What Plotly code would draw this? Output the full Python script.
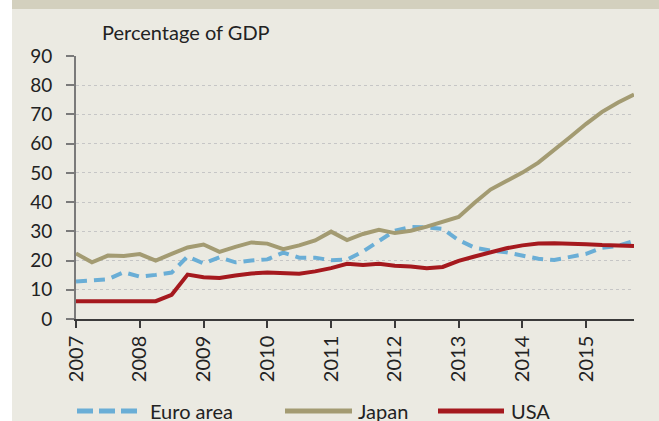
import plotly.graph_objects as go

# ---- data (quarterly, 2007Q1 .. 2015Q4) ----
quarters = [2007 + 0.25 * i for i in range(36)]
euro_area = [12.8, 13.2, 13.6, 16.0, 14.5, 15.1, 15.9, 21.4,
             19.0, 21.1, 19.4, 20.0, 20.4, 22.7, 21.0, 21.0,
             20.1, 20.3, 23.1, 26.7, 30.2, 31.5, 31.4, 30.8,
             27.0, 24.4, 23.4, 22.8, 21.6, 20.6, 20.2, 21.1,
             22.3, 24.4, 25.0, 26.7]
japan = [22.4, 19.4, 21.7, 21.6, 22.2, 20.0, 22.3, 24.5,
         25.5, 23.0, 24.7, 26.2, 25.8, 23.9, 25.2, 26.9,
         29.9, 27.0, 29.1, 30.5, 29.4, 30.2, 31.6, 33.4,
         34.9, 39.8, 44.3, 47.2, 50.1, 53.5, 57.7, 62.3,
         66.8, 70.9, 74.1, 76.8]
usa = [6.1, 6.1, 6.2, 6.1, 6.1, 6.1, 8.3, 15.2,
       14.3, 14.0, 14.9, 15.6, 15.9, 15.8, 15.5, 16.3,
       17.4, 18.9, 18.5, 18.9, 18.2, 18.0, 17.4, 17.8,
       19.9, 21.4, 22.8, 24.2, 25.2, 25.8, 25.9, 25.9,
       25.6, 25.3, 25.1, 25.0]
year_ticks = [2007, 2008, 2009, 2010, 2011, 2012, 2013, 2014, 2015]
y_ticks = [0, 10, 20, 30, 40, 50, 60, 70, 80, 90]
series_names = ["Euro area", "Japan", "USA"]

# ---- style ----
W, H = 659, 421
ML, MR, MT, MB = 76, 25, 56, 102
PW, PH = W - ML - MR, H - MT - MB
BG = "#ebeae2"
BAND = "#d3d0be"
C_EURO = "#6aaed6"
C_JAPAN = "#a39b72"
C_USA = "#a5191e"
FONT = "Lato"


def px_x(px):
    return (px - ML) / PW


def px_y(py):
    return (H - MB - py) / PH


fig = go.Figure()
fig.add_trace(go.Scatter(x=quarters, y=euro_area, mode="lines", name=series_names[0],
                         line=dict(color=C_EURO, width=4, dash="11px,7px")))
fig.add_trace(go.Scatter(x=quarters, y=japan, mode="lines", name=series_names[1],
                         line=dict(color=C_JAPAN, width=4)))
fig.add_trace(go.Scatter(x=quarters, y=usa, mode="lines", name=series_names[2],
                         line=dict(color=C_USA, width=4)))

shapes = [
    # white strip at left
    dict(type="rect", xref="paper", yref="paper", x0=px_x(0), x1=px_x(12),
         y0=px_y(H), y1=px_y(0), fillcolor="white", line=dict(width=0), layer="below"),
    # top band
    dict(type="rect", xref="paper", yref="paper", x0=px_x(12), x1=px_x(W),
         y0=px_y(9), y1=px_y(0), fillcolor=BAND, line=dict(width=0), layer="below"),
]

annotations = [
    dict(text="Percentage of GDP", xref="paper", yref="paper", x=px_x(100), y=px_y(32),
         xanchor="left", yanchor="middle", showarrow=False,
         font=dict(family=FONT, size=20, color="#222222")),
]

# manual legend (long line samples as in the original)
leg_y = 411
leg_items = [
    (series_names[0], C_EURO, "dash", 77, 137, 148),
    (series_names[1], C_JAPAN, "solid", 285, 352, 356),
    (series_names[2], C_USA, "solid", 438, 504, 509),
]
for name, col, dash, x0, x1, tx in leg_items:
    shapes.append(dict(type="line", xref="paper", yref="paper",
                       x0=px_x(x0), x1=px_x(x1), y0=px_y(leg_y), y1=px_y(leg_y),
                       line=dict(color=col, width=5,
                                 dash="16px,6px" if dash == "dash" else "solid")))
    annotations.append(dict(text=name, xref="paper", yref="paper", x=px_x(tx), y=px_y(leg_y),
                            xanchor="left", yanchor="middle", showarrow=False,
                            font=dict(family=FONT, size=20, color="#222222")))

fig.update_layout(
    width=W, height=H,
    margin=dict(l=ML, r=MR, t=MT, b=MB, pad=0),
    paper_bgcolor=BG, plot_bgcolor=BG,
    showlegend=False,
    shapes=shapes, annotations=annotations,
    font=dict(family=FONT, color="#222222"),
    xaxis=dict(range=[2007, 2015.75], tickvals=year_ticks, ticktext=[str(y) for y in year_ticks],
               tickangle=-90, showgrid=False, zeroline=False,
               showline=True, linecolor="#3a3a3a", linewidth=1.5,
               ticks="outside", ticklen=7, tickcolor="#3a3a3a", tickwidth=1.5,
               tickfont=dict(family=FONT, size=20, color="#222222")),
    yaxis=dict(range=[0, 90], tickvals=y_ticks, showgrid=True, gridcolor="#c6c6c6",
               griddash="dot", gridwidth=1, zeroline=False,
               showline=True, linecolor="#7a7a7a", linewidth=2,
               ticks="outside", ticklen=8, tickcolor="#7a7a7a", tickwidth=1.5,
               ticklabelstandoff=10,
               tickfont=dict(family=FONT, size=19, color="#222222")),
)

fig.write_html("out.html", config={"displayModeBar": False},
               post_script="document.body.style.margin='0';document.body.style.overflow='hidden';")
